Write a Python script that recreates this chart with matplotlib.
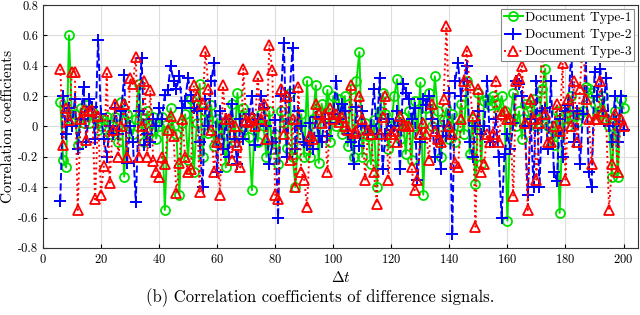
import numpy as np
import matplotlib
matplotlib.use("Agg")
import matplotlib.pyplot as plt

plt.rcParams['font.family'] = ['cmr10', 'DejaVu Serif']
plt.rcParams['mathtext.fontset'] = 'cm'
plt.rcParams['axes.formatter.use_mathtext'] = True

lags = np.arange(6, 201)

type1 = [
    0.16, -0.22, -0.27, 0.60, 0.05, 0.08, -0.12, 0.12, 0.02, 0.14,
    0.02, 0.10, 0.07, -0.02, 0.00, 0.04, 0.06, -0.05, 0.00, 0.06,
    -0.10, 0.16, -0.33, 0.08, 0.00, -0.05, 0.05, 0.28, 0.02, -0.10,
    0.10, -0.03, 0.06, -0.08, 0.00, 0.06, -0.55, -0.02, 0.12, 0.00,
    -0.05, -0.45, 0.02, 0.08, -0.22, 0.18, -0.30, 0.02, 0.28, -0.20,
    0.10, -0.04, 0.14, -0.13, 0.05, -0.08, 0.02, -0.27, 0.00, 0.15,
    -0.10, 0.22, -0.05, 0.12, 0.02, -0.07, -0.42, 0.04, -0.10, 0.08,
    0.00, -0.20, 0.10, -0.15, -0.05, -0.25, 0.10, 0.02, -0.14, 0.22,
    -0.20, -0.40, 0.02, 0.08, -0.20, 0.30, -0.20, 0.05, 0.27, -0.24,
    0.15, 0.06, 0.24, -0.10, 0.20, 0.00, 0.18, -0.05, 0.20, -0.13,
    0.25, -0.20, 0.30, 0.49, -0.20, 0.02, -0.06, -0.25, 0.04, -0.40,
    0.10, 0.22, 0.08, -0.15, 0.00, 0.20, 0.31, -0.08, 0.06, -0.18,
    0.10, -0.22, 0.17, -0.05, 0.29, -0.45, 0.12, 0.22, 0.00, 0.33,
    0.10, -0.20, 0.04, 0.12, -0.08, 0.08, -0.10, 0.00, 0.15, -0.05,
    0.30, -0.18, 0.05, -0.38, 0.22, -0.25, 0.17, 0.18, 0.14, 0.20,
    0.15, 0.10, 0.20, 0.10, -0.62, 0.05, 0.22, 0.00, 0.10, -0.08,
    0.15, 0.10, 0.05, 0.18, 0.00, 0.05, 0.25, 0.38, 0.00, -0.05,
    -0.12, 0.10, -0.57, 0.05, 0.12, 0.00, 0.20, 0.07, 0.03, 0.08,
    0.10, 0.26, 0.25, 0.22, 0.15, 0.08, 0.10, 0.20, 0.05, 0.00,
    -0.33, 0.10, -0.33, 0.18, 0.12,
]

type2 = [
    -0.49, 0.20, -0.05, 0.12, 0.00, 0.18, -0.15, 0.05, 0.26, -0.10,
    0.18, 0.13, -0.08, 0.57, 0.08, -0.08, -0.20, 0.00, -0.05, 0.12,
    -0.05, 0.10, 0.34, -0.24, 0.00, -0.10, -0.50, 0.10, 0.45, -0.12,
    -0.05, -0.10, 0.05, 0.00, 0.12, 0.05, 0.21, 0.24, 0.40, 0.30,
    0.25, 0.33, 0.12, 0.17, 0.32, 0.21, 0.12, 0.10, -0.10, -0.40,
    0.18, 0.00, 0.30, 0.42, -0.30, 0.10, -0.15, 0.05, -0.20, 0.15,
    -0.08, -0.25, 0.05, -0.08, 0.00, 0.08, 0.20, -0.12, 0.05, 0.20,
    0.12, 0.00, -0.25, -0.10, 0.04, -0.60, 0.20, 0.55, -0.20, 0.22,
    0.52, -0.15, 0.10, 0.00, -0.10, -0.12, 0.02, -0.15, 0.06, -0.06,
    -0.10, 0.05, -0.06, 0.02, 0.08, 0.30, 0.05, 0.15, 0.10, -0.05,
    -0.10, -0.25, 0.13, -0.13, 0.10, 0.00, -0.05, 0.00, 0.25, -0.05,
    0.32, -0.28, -0.05, 0.05, -0.02, 0.00, 0.10, -0.28, 0.28, 0.22,
    0.18, 0.05, 0.12, -0.35, -0.10, 0.18, 0.14, 0.20, 0.05, -0.20,
    0.00, -0.28, 0.00, -0.06, 0.22, -0.71, 0.30, 0.42, 0.20, 0.30,
    0.40, -0.10, -0.20, 0.00, 0.10, -0.05, 0.00, 0.30, -0.10, -0.10,
    0.05, -0.20, -0.60, -0.18, -0.05, -0.15, 0.02, 0.30, 0.28, 0.20,
    0.00, -0.45, 0.05, -0.40, 0.30, -0.40, 0.10, 0.12, -0.15, 0.30,
    -0.30, -0.36, 0.05, -0.20, 0.10, 0.14, 0.50, -0.10, 0.10, -0.25,
    0.08, 0.45, -0.30, -0.40, 0.36, 0.20, 0.38, 0.10, 0.32, 0.00,
    -0.10, 0.20, -0.10, 0.20, -0.02,
]

type3 = [
    0.38, -0.12, 0.12, 0.04, 0.36, 0.36, -0.55, 0.05, 0.11, -0.09,
    0.10, 0.11, -0.48, 0.07, -0.45, -0.26, 0.36, -0.37, -0.02, 0.15,
    -0.20, 0.00, 0.15, -0.20, 0.32, 0.28, 0.46, -0.20, 0.00, 0.30,
    -0.20, 0.24, -0.23, -0.30, -0.33, -0.20, -0.25, -0.02, 0.07, -0.06,
    -0.44, -0.24, 0.05, -0.20, -0.30, -0.28, 0.27, 0.20, -0.43, 0.15,
    0.50, 0.25, -0.02, -0.30, -0.10, -0.45, 0.27, 0.05, 0.05, -0.22,
    0.00, -0.12, -0.27, 0.38, 0.04, 0.03, 0.06, 0.00, 0.33, 0.05,
    0.15, -0.08, 0.54, 0.37, -0.45, -0.48, 0.25, -0.05, 0.20, -0.22,
    0.05, -0.40, 0.26, -0.30, -0.35, -0.53, -0.06, -0.08, 0.15, 0.08,
    0.02, 0.08, -0.30, 0.12, 0.05, 0.08, 0.03, 0.06, 0.00, -0.02,
    0.27, -0.04, -0.03, 0.20, 0.05, -0.35, -0.02, -0.05, -0.30, -0.51,
    -0.05, 0.06, 0.20, -0.35, -0.05, -0.03, -0.10, 0.07, 0.01, 0.00,
    0.00, -0.27, -0.42, -0.35, -0.05, 0.02, -0.05, -0.22, 0.15, -0.03,
    -0.08, -0.10, 0.18, 0.66, 0.00, -0.05, -0.24, -0.27, 0.05, 0.30,
    0.50, 0.27, 0.07, -0.66, 0.25, -0.30, -0.25, -0.05, -0.10, -0.05,
    0.30, -0.10, 0.08, 0.10, 0.05, 0.05, -0.46, 0.30, 0.32, 0.40,
    0.02, -0.55, 0.18, 0.05, -0.35, 0.02, 0.65, 0.08, -0.10, -0.10,
    0.00, 0.15, -0.03, 0.42, -0.35, 0.18, 0.00, 0.30, -0.10, 0.25,
    0.60, 0.18, 0.05, -0.25, 0.05, 0.05, 0.30, 0.10, 0.05, -0.55,
    -0.25, 0.08, -0.30, 0.05, 0.00,
]

fig = plt.figure(figsize=(6.4, 3.15), dpi=100)
ax = fig.add_axes([0.067, 0.213, 0.93, 0.771])

ax.plot(lags, type1, '-o', color='#00e000', lw=1.4, ms=6.5, mfc='none',
        mew=1.3, label='Document Type-1')
ax.plot(lags, type2, '--+', color='#0000ff', lw=1.4, ms=8, mew=1.4,
        label='Document Type-2')
ax.plot(lags, type3, ':^', color='#ff0000', lw=1.4, ms=7, mfc='none',
        mew=1.3, label='Document Type-3')

ax.set_xlim(0, 205)
ax.set_ylim(-0.8, 0.8)
ax.set_xticks(np.arange(0, 201, 20))
ax.set_yticks(np.arange(-0.8, 0.81, 0.2))
ax.set_yticklabels(['-0.8', '-0.6', '-0.4', '-0.2', '0', '0.2', '0.4', '0.6', '0.8'])
ax.grid(True, color='#dddddd', lw=0.8)
ax.set_axisbelow(True)
ax.tick_params(direction='in', labelsize=9, length=3)
for s in ax.spines.values():
    s.set_color('#333333')
    s.set_linewidth(0.8)

ax.set_xlabel(r'$\Delta t$', fontsize=11, labelpad=3)
ax.set_ylabel('Correlation coefficients', fontsize=11, labelpad=2)

leg = ax.legend(loc='upper right', fontsize=9.7, handlelength=1.4,
                borderpad=0.2, labelspacing=0.35, handletextpad=0.15,
                borderaxespad=0.3, fancybox=False, framealpha=1)
leg.get_frame().set_edgecolor('#888888')
leg.get_frame().set_linewidth(0.8)

fig.text(0.5, 0.025, '(b) Correlation coefficients of difference signals.',
         ha='center', va='bottom', fontsize=12)

fig.savefig('out.png', dpi=100)
